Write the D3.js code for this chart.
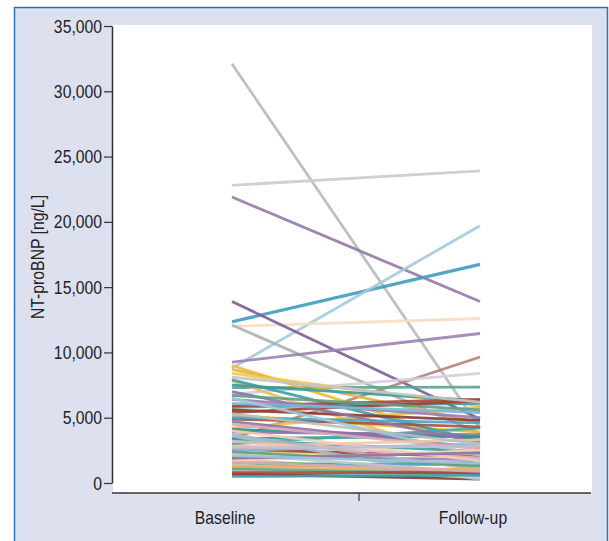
<!DOCTYPE html>
<html>
<head>
<meta charset="utf-8">
<script src="https://cdn.jsdelivr.net/npm/d3@7.9.0/dist/d3.min.js"></script>
<style>
  html, body { margin: 0; padding: 0; background: #fff; }
  svg { display: block; }
  text { font-family: "Liberation Sans", Arial, sans-serif; fill: #222; }
</style>
</head>
<body>
<div id="chart"></div>
<script>
// Data (NT-proBNP, ng/L)
const timepoints = ["Baseline", "Follow-up"];
const yTicks = [0, 5000, 10000, 15000, 20000, 25000, 30000, 35000];

const baseline = [
  32100, 22800, 21900, 12350, 8800, 12000, 13900, 12100, 9250, 3400, 6800, 7300,
  9000, 8700, 8400, 7800, 5200, 2900, 1800, 4200, 2300,
  7900, 7500, 3400, 3300, 3000, 600, 1500, 5800, 4100,
  5900, 5600, 5400, 4900, 1000, 2600, 700,
  7000, 6400, 4700, 2000, 3900,
  6100, 5000, 3600, 2500, 6500, 1200,
  4500, 3200, 1700, 2800, 900, 4000,
  2200, 5300, 1400, 3700, 2700, 8100,
  6700, 1100, 2400,
  500, 800, 1300, 1900, 2100, 1600
];
const followup = [
  4200, 23900, 13900, 16750, 19700, 12600, 4900, 3800, 11450, 9650, 8400, 7350,
  2900, 4600, 5900, 1500, 3900, 1200, 600, 5800, 2200,
  3200, 6300, 3600, 2400, 4200, 500, 1400, 6100, 3500,
  6400, 4800, 6300, 4300, 900, 2000, 300,
  3100, 5000, 2700, 1800, 3700,
  5400, 4600, 250, 3000, 2100, 1600,
  2600, 1900, 2500, 3300, 1100, 1700,
  800, 3000, 400, 1000, 2800, 6200,
  5600, 700, 1300,
  600, 800, 1000, 2300, 1500, 900
];

// one colour per patient line
const lineColors = [
  "#b3bbbb", "#c6cdca", "#9478aa", "#3e9cc0", "#a3c9db", "#f8dcc0", "#7c5c96", "#a9b1b1", "#9c82b4", "#b88272", "#d4cce2", "#5aa48e",
  "#e8bc3c", "#e4b440", "#f0c850", "#e8c060", "#e8b830", "#e8c040", "#e8b840", "#e8c048", "#f0d070",
  "#3f9ea0", "#3a9a9c", "#2f9898", "#3aa0a0", "#48a8a8", "#40a0a0", "#3c9c9c", "#3f9ea0", "#2f8f8f",
  "#a5483a", "#8c3a2e", "#a04030", "#a85040", "#8c3a2e", "#a5483a", "#8c3a2e",
  "#8e72ab", "#9a7cb4", "#8e72ab", "#9a80b4", "#8e72ab",
  "#7ab8d4", "#4aa3c6", "#9cc6da", "#8cc0d8", "#a0c8dc", "#5aa8c8",
  "#dcaab8", "#e4b8c4", "#f6d3ac", "#f0c8a0", "#e8b8c0", "#f2d0b0",
  "#c0c8c8", "#b8c0c0", "#c8c8d8", "#b0b8b8", "#c4bcd4", "#c0c8c8",
  "#5f9f86", "#6aa890", "#5f9f86",
  "#40a0a0", "#a5483a", "#e8b840", "#8e72ab", "#9cc6da", "#dcaab8"
];

const width = 609;
const height = 541;
const narrow = 0.83; // condensed look for the text
const fontSize = 19;

const plot = { left: 113, right: 592, top: 25, bottom: 493 };

const x = d3.scalePoint().domain(timepoints).range([232, 480]);
const y = d3.scaleLinear().domain([0, 35000]).range([483, 26]);

const svg = d3.select("#chart").append("svg")
  .attr("width", width)
  .attr("height", height);

// outer frame
svg.append("rect")
  .attr("x", 14.5).attr("y", 7.5)
  .attr("width", 593).attr("height", 545)
  .attr("fill", "#dde1ef")
  .attr("stroke", "#2f6fb5")
  .attr("stroke-width", 1.5);

// plot area
svg.append("rect")
  .attr("x", plot.left).attr("y", plot.top)
  .attr("width", plot.right - plot.left).attr("height", plot.bottom - plot.top)
  .attr("fill", "#fff");

const patients = baseline.map((b, i) => ({ b: b, f: followup[i], c: lineColors[i] }));

svg.append("g")
  .attr("class", "lines")
  .selectAll("line")
  .data(patients)
  .join("line")
  .attr("x1", x("Baseline"))
  .attr("x2", x("Follow-up"))
  .attr("y1", d => y(d.b))
  .attr("y2", d => y(d.f))
  .attr("stroke", d => d.c)
  .attr("stroke-width", (d, i) => i === 3 ? 3.3 : 2.8)
  .attr("stroke-opacity", 0.9)
  .attr("stroke-linecap", "butt");

// y axis
const yAxis = svg.append("g")
  .attr("transform", "translate(112,0)")
  .call(d3.axisLeft(y).tickValues(yTicks).tickSize(8).tickSizeOuter(0).tickPadding(4)
    .tickFormat(d3.format(",")));
yAxis.select(".domain").attr("stroke", "#333").attr("stroke-width", 1.5);
yAxis.selectAll(".tick line").attr("stroke", "#333").attr("stroke-width", 1.2);
yAxis.selectAll(".tick text")
  .attr("font-size", fontSize)
  .attr("fill", "#222")
  .attr("transform", `scale(${narrow},1)`);

// x axis (line with a single centre tick)
const xAxis = svg.append("g").attr("transform", `translate(0,${plot.bottom})`);
xAxis.append("line")
  .attr("x1", 112).attr("x2", 591)
  .attr("stroke", "#333").attr("stroke-width", 1.5);
xAxis.append("line")
  .attr("x1", (x("Baseline") + x("Follow-up")) / 2 + 3)
  .attr("x2", (x("Baseline") + x("Follow-up")) / 2 + 3)
  .attr("y1", 0).attr("y2", 8)
  .attr("stroke", "#333").attr("stroke-width", 1.2);
xAxis.selectAll("text.cat")
  .data(timepoints)
  .join("text")
  .attr("class", "cat")
  .attr("transform", d => `translate(${x(d) - 7},31) scale(${narrow},1)`)
  .attr("text-anchor", "middle")
  .attr("font-size", fontSize)
  .text(d => d);

// y axis title
svg.append("text")
  .attr("transform", `translate(44,257) rotate(-90) scale(${narrow},1)`)
  .attr("text-anchor", "middle")
  .attr("font-size", fontSize)
  .text("NT-proBNP [ng/L]");
</script>
</body>
</html>
